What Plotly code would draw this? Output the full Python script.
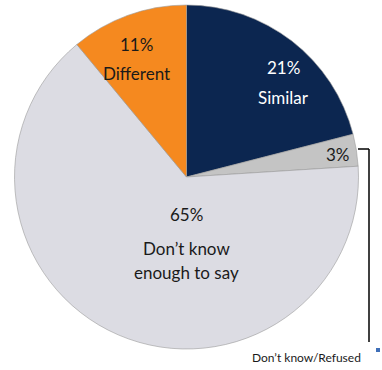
import plotly.graph_objects as go

W, H = 382, 370

# Survey shares
categories = ["Similar", "Don't know/Refused", "Don't know\nenough to say", "Different"]
shares = [21, 3, 65, 11]
slice_colors = ["#0c2650", "#c4c4c4", "#dcdce3", "#f5891f"]

fig = go.Figure(go.Pie(
    labels=categories,
    values=shares,
    sort=False,
    direction="clockwise",
    rotation=0,
    marker=dict(colors=slice_colors, line=dict(color="#9a9a9a", width=0.6)),
    textinfo="none",
    hoverinfo="label+percent",
    showlegend=False,
    domain=dict(x=[14.5 / W, 358.5 / W], y=[(H - 349) / H, (H - 5) / H]),
))


def px(x, y):
    return x / W, 1 - y / H


FONT = "Lato, 'Open Sans', sans-serif"
# label layout: (text, x, y, color)
label_lines = [
    (f"{shares[0]}%", 283, 67, "white"),
    ("Similar", 283, 97, "white"),
    (f"{shares[3]}%", 136, 45, "#1a1a1a"),
    ("Different", 136, 73, "#1a1a1a"),
    (f"{shares[1]}%", 338, 155, "#1a1a1a"),
    (f"{shares[2]}%", 186, 215, "#1a1a1a"),
    ("Don’t know", 186, 248, "#1a1a1a"),
    ("enough to say", 186, 272, "#1a1a1a"),
]
annotations = []
for text, x, y, col in label_lines:
    ax, ay = px(x, y)
    annotations.append(dict(x=ax, y=ay, xref="paper", yref="paper", text=text,
                            showarrow=False, xanchor="center", yanchor="middle",
                            font=dict(family=FONT, size=17, color=col)))

# callout caption for the small slice
cx, cy = px(306, 357)
annotations.append(dict(x=cx, y=cy, xref="paper", yref="paper", text="Don’t know/Refused",
                        showarrow=False, xanchor="center", yanchor="middle",
                        font=dict(family=FONT, size=12, color="#1a1a1a")))

# leader line from the small slice down to its caption
x0, y0 = px(358, 149)
x1, y1 = px(369, 149)
x2, y2 = px(369, 342)
qx0, qy0 = px(376, 348)
qx1, qy1 = px(380, 352)
shapes = [
    dict(type="line", xref="paper", yref="paper", x0=x0, y0=y0, x1=x1, y1=y1,
         line=dict(color="black", width=1.5)),
    dict(type="line", xref="paper", yref="paper", x0=x1, y0=y1, x1=x2, y1=y2,
         line=dict(color="black", width=1.5)),
    dict(type="rect", xref="paper", yref="paper", x0=qx0, y0=qy0, x1=qx1, y1=qy1,
         line=dict(width=0), fillcolor="#3f6fb8"),
]

fig.update_layout(
    width=W, height=H,
    margin=dict(l=0, r=0, t=0, b=0),
    paper_bgcolor="white", plot_bgcolor="white",
    annotations=annotations, shapes=shapes,
)

fig.write_html("out.html")
